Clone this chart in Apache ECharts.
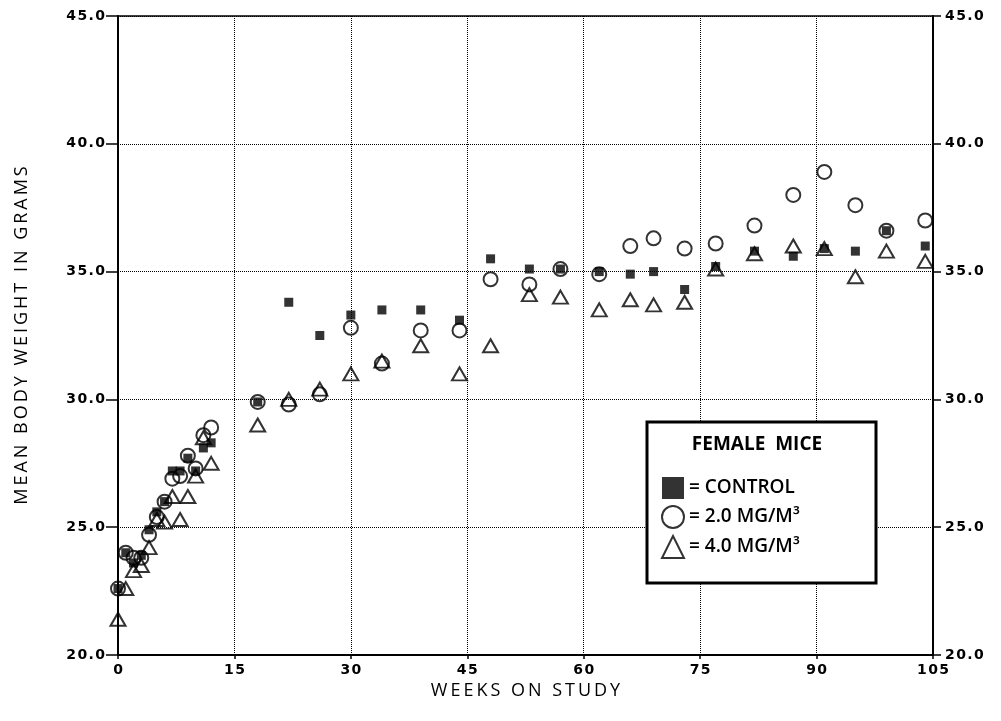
<!DOCTYPE html>
<html>
<head>
<meta charset="utf-8">
<script src="https://cdn.jsdelivr.net/npm/echarts@6/dist/echarts.min.js"></script>
<style>html,body{margin:0;padding:0;background:#fff;}#c{width:1001px;height:721px;}</style>
</head>
<body>
<div id="c"></div>
<script>
const weeks = [0,1,2,3,4,5,6,7,8,9,10,11,12,18,22,26,30,34,39,44,48,53,57,62,66,69,73,77,82,87,91,95,99,104];
const control = [22.6,24.0,23.6,23.9,24.9,25.6,26.0,27.2,27.2,27.7,27.2,28.1,28.3,29.9,33.8,32.5,33.3,33.5,33.5,33.1,35.5,35.1,35.1,35.0,34.9,35.0,34.3,35.2,35.8,35.6,35.9,35.8,36.6,36.0];
const dose2 = [22.6,24.0,23.8,23.8,24.7,25.4,26.0,26.9,27.0,27.8,27.3,28.6,28.9,29.9,29.8,30.2,32.8,31.4,32.7,32.7,34.7,34.5,35.1,34.9,36.0,36.3,35.9,36.1,36.8,38.0,38.9,37.6,36.6,37.0];
const dose4 = [21.4,22.6,23.3,23.5,24.2,25.3,25.2,26.2,25.3,26.2,27.0,28.5,27.5,29.0,30.0,30.4,31.0,31.5,32.1,31.0,32.1,34.1,34.0,33.5,33.9,33.7,33.8,35.1,35.7,36.0,35.9,34.8,35.8,35.4];
const seriesNames = ['CONTROL', '2.0 MG/M\u00B3', '4.0 MG/M\u00B3'];
const legendTitle = 'FEMALE  MICE';
const xTicks = [0,15,30,45,60,75,90,105];
const yTicks = [20,25,30,35,40,45];
const xName = 'WEEKS ON STUDY';
const yName = 'MEAN BODY WEIGHT IN GRAMS';

function pairs(xs, ys){ return xs.map((x,i)=>[x, ys[i]]); }
function spaced(s){ return String(s).split('').join('\u2009'); }
function tight(s){ return String(s).split('').join('\u200A'); }

const chart = echarts.init(document.getElementById('c'));
const yLabel = {
  formatter: v => tight(v.toFixed(1)),
  fontFamily: 'DejaVu Sans', fontWeight: 'bold', fontSize: 14, color: '#000'
};
chart.setOption({
  animation: false,
  backgroundColor: '#fff',
  grid: { left: 118, right: 68, top: 16, bottom: 66, show: true, borderColor: '#000', borderWidth: 1.5, backgroundColor: 'transparent' },
  xAxis: {
    type: 'value', min: xTicks[0], max: xTicks[xTicks.length-1], interval: 15,
    name: spaced(xName), nameLocation: 'middle', nameGap: 25,
    nameTextStyle: { fontFamily: 'Open Sans', fontSize: 18, color: '#000' },
    axisLine: { show: true, lineStyle: { color: '#000', width: 2 } },
    axisTick: { show: true, length: 4, lineStyle: { color: '#000', width: 1.5 } },
    axisLabel: { margin: 8, formatter: v => tight(v), fontFamily: 'DejaVu Sans', fontWeight: 'bold', fontSize: 14, color: '#000' },
    splitLine: { show: true, lineStyle: { type: 'dotted', color: '#000', width: 1 } }
  },
  yAxis: [{
    type: 'value', min: yTicks[0], max: yTicks[yTicks.length-1], interval: 5, position: 'left',
    name: spaced(yName), nameLocation: 'middle', nameGap: 87,
    nameTextStyle: { fontFamily: 'Open Sans', fontSize: 18, color: '#000' },
    axisLine: { show: true, lineStyle: { color: '#000', width: 2 } },
    axisTick: { show: true, length: 12, lineStyle: { color: '#000', width: 1.5 } },
    axisLabel: Object.assign({ margin: 13 }, yLabel),
    splitLine: { show: true, lineStyle: { type: 'dotted', color: '#000', width: 1 } }
  }, {
    type: 'value', min: yTicks[0], max: yTicks[yTicks.length-1], interval: 5, position: 'right',
    axisLine: { show: true, lineStyle: { color: '#000', width: 2 } },
    axisTick: { show: true, length: 8, lineStyle: { color: '#000', width: 1.5 } },
    axisLabel: Object.assign({ margin: 12 }, yLabel),
    splitLine: { show: false }
  }],
  legend: {
    orient: 'vertical', left: 656, top: 472, itemWidth: 22, itemHeight: 22, itemGap: 6, z: 30,
    data: [
      { name: seriesNames[0], icon: 'rect' },
      { name: seriesNames[1], icon: 'circle' },
      { name: seriesNames[2], icon: 'triangle' }
    ],
    formatter: n => '= ' + n,
    textStyle: { fontFamily: 'Open Sans', fontWeight: 600, fontSize: 19, lineHeight: 22, color: '#000' },
    selectedMode: false
  },
  graphic: [
    { type: 'rect', z: 20, shape: { x: 647, y: 422, width: 229, height: 161 },
      style: { fill: '#fff', stroke: '#000', lineWidth: 3 } },
    { type: 'text', z: 21, x: 757, y: 445,
      style: { text: legendTitle, font: 'bold 19px "Open Sans"', fill: '#000', textAlign: 'center', textVerticalAlign: 'middle' } }
  ],
  series: [
    { name: seriesNames[1], type: 'scatter', z: 3, data: pairs(weeks, dose2), symbol: 'circle', symbolSize: 14,
      itemStyle: { color: 'rgba(255,255,255,0)', borderColor: '#000', borderWidth: 2 } },
    { name: seriesNames[2], type: 'scatter', z: 3, data: pairs(weeks, dose4), symbol: 'triangle', symbolSize: [15, 13],
      itemStyle: { color: 'rgba(255,255,255,0)', borderColor: '#000', borderWidth: 2 } },
    { name: seriesNames[0], type: 'scatter', z: 4, data: pairs(weeks, control), symbol: 'rect', symbolSize: 9,
      itemStyle: { color: '#000' } }
  ]
});
</script>
</body>
</html>
